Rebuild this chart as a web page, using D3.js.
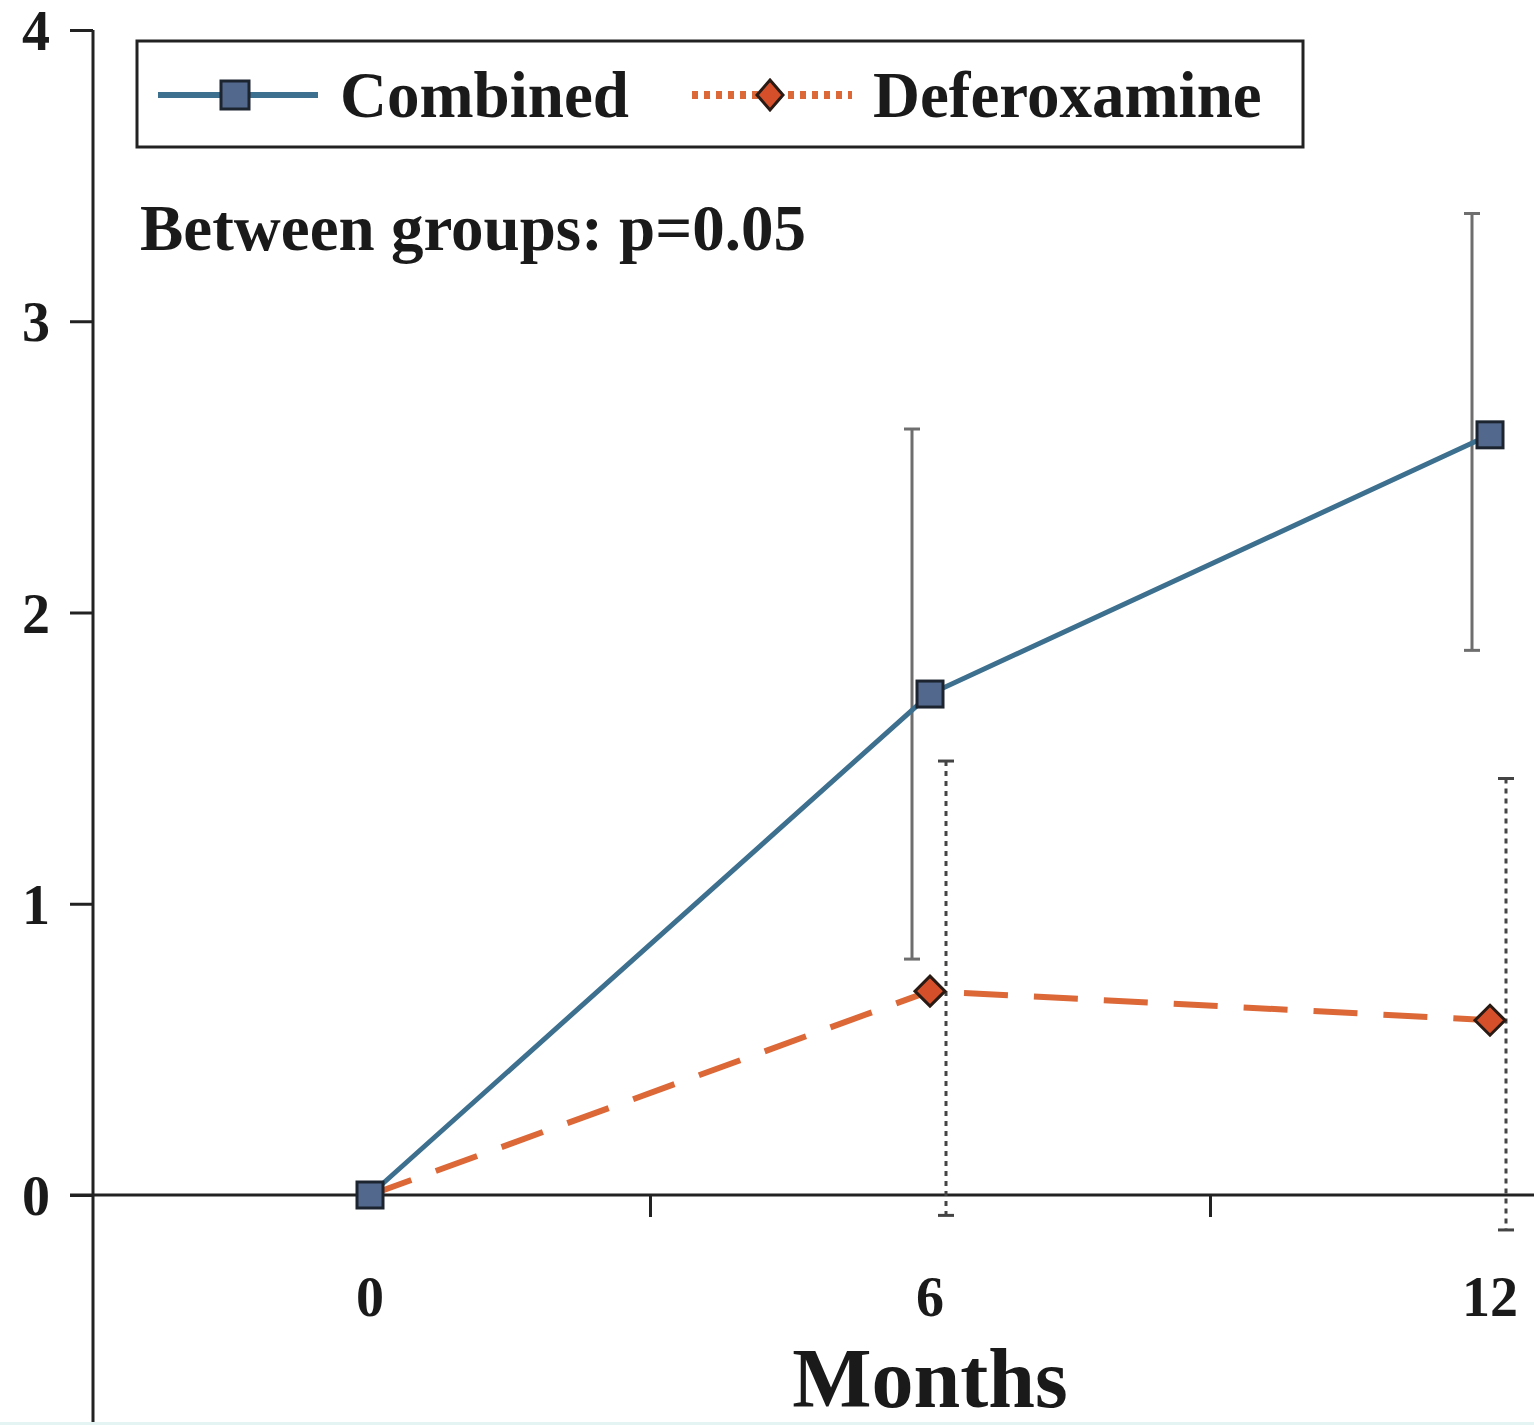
<!DOCTYPE html>
<html>
<head>
<meta charset="utf-8">
<script src="https://cdn.jsdelivr.net/npm/d3@7"></script>
<style>
  body { margin: 0; background: #fff; }
  svg { display: block; }
  text { font-family: "Liberation Serif", "DejaVu Serif", serif; font-weight: bold; fill: #1a1a1a; }
</style>
</head>
<body>
<svg id="chart" width="1534" height="1425"></svg>
<script>
// data
const months = [0, 6, 12];
const combined = [0, 1.72, 2.61];
const combinedUpper = [null, 2.63, 3.37];
const combinedLower = [null, 0.81, 1.87];
const deferoxamine = [0, 0.70, 0.60];
const deferoxamineUpper = [null, 1.49, 1.43];
const deferoxamineLower = [null, -0.07, -0.12];
const yTicks = [0, 1, 2, 3, 4];
const seriesNames = ["Combined", "Deferoxamine"];

const svg = d3.select("#chart");

const x = d3.scaleLinear().domain([-3, 15]).range([90, 1770]);
const y = d3.scaleLinear().domain([0, 4]).range([1195, 30]);

const blue = "#3d6f8e", blueFill = "#52698d";
const orange = "#dc6737", orangeFill = "#d5502a";

// y axis
svg.append("line")
   .attr("x1", 93).attr("x2", 93)
   .attr("y1", y(4)).attr("y2", 1425)
   .attr("stroke", "#222").attr("stroke-width", 3);

const yAxis = d3.axisLeft(y).tickValues(yTicks).tickSize(23).tickFormat(d3.format("d"));
const gy = svg.append("g").attr("transform", "translate(93,0)").call(yAxis);
gy.select(".domain").remove();
gy.selectAll(".tick line").attr("stroke", "#222").attr("stroke-width", 3);
gy.selectAll(".tick text")
  .attr("x", -43).attr("dy", "0.35em")
  .style("font-size", "56px").style("font-family", "Liberation Serif").style("font-weight", "bold")
  .attr("fill", "#1a1a1a");

// x axis at zero
svg.append("line")
   .attr("x1", 70).attr("x2", 1534)
   .attr("y1", y(0)).attr("y2", y(0))
   .attr("stroke", "#222").attr("stroke-width", 3);

const xAxis = d3.axisBottom(x).tickValues([3, 9]).tickSize(22).tickFormat("");
const gx = svg.append("g").attr("transform", `translate(0,${y(0)})`).call(xAxis);
gx.select(".domain").remove();
gx.selectAll(".tick line").attr("stroke", "#222").attr("stroke-width", 3);

svg.selectAll(".xlab")
   .data(months)
   .enter()
   .append("text")
   .attr("class", "xlab")
   .attr("x", d => x(d))
   .attr("y", 1316)
   .attr("text-anchor", "middle")
   .style("font-size", "56px")
   .text(d => d);

svg.append("text")
   .attr("x", x(6))
   .attr("y", 1407)
   .attr("text-anchor", "middle")
   .style("font-size", "84px")
   .text("Months");

// error bars
function errorBars(upper, lower, dx, color, dash, cls) {
  const g = svg.append("g").attr("class", cls);
  months.forEach((m, i) => {
    if (upper[i] == null) return;
    const cx = x(m) + dx;
    g.append("line")
     .attr("x1", cx).attr("x2", cx)
     .attr("y1", y(upper[i])).attr("y2", y(lower[i]))
     .attr("stroke", color).attr("stroke-width", 3)
     .attr("stroke-dasharray", dash);
    [upper[i], lower[i]].forEach(v => {
      g.append("line")
       .attr("x1", cx - 8).attr("x2", cx + 8)
       .attr("y1", y(v)).attr("y2", y(v))
       .attr("stroke", color).attr("stroke-width", 3);
    });
  });
}
errorBars(combinedUpper, combinedLower, -18, "#6e6e6e", null, "err-comb");
errorBars(deferoxamineUpper, deferoxamineLower, 16, "#444", "5,5", "err-def");

// lines
const line = d3.line().x((d, i) => x(months[i])).y(d => y(d));

svg.append("path")
   .datum(deferoxamine)
   .attr("d", line)
   .attr("fill", "none")
   .attr("stroke", orange)
   .attr("stroke-width", 6)
   .attr("stroke-dasharray", "44,26");

svg.append("path")
   .datum(combined)
   .attr("d", line)
   .attr("fill", "none")
   .attr("stroke", blue)
   .attr("stroke-width", 5);

// markers
const sq = 26, dm = 15;
svg.selectAll(".sq")
   .data(combined)
   .enter()
   .append("rect")
   .attr("class", "sq")
   .attr("x", (d, i) => x(months[i]) - sq / 2)
   .attr("y", d => y(d) - sq / 2)
   .attr("width", sq).attr("height", sq)
   .attr("fill", blueFill).attr("stroke", "#1c2430").attr("stroke-width", 3);

svg.selectAll(".dm")
   .data(deferoxamine)
   .enter()
   .filter((d, i) => i > 0)
   .append("path")
   .attr("class", "dm")
   .attr("d", (d, i) => {
     const cx = x(months[i + 1]), cy = y(d);
     return `M${cx},${cy - dm}L${cx + dm},${cy}L${cx},${cy + dm}L${cx - dm},${cy}Z`;
   })
   .attr("fill", orangeFill).attr("stroke", "#2a1a14").attr("stroke-width", 3);

// legend
const leg = svg.append("g");
leg.append("rect")
   .attr("x", 137).attr("y", 41).attr("width", 1166).attr("height", 106)
   .attr("fill", "#fff").attr("stroke", "#222").attr("stroke-width", 3);

leg.append("line")
   .attr("x1", 158).attr("x2", 318).attr("y1", 95).attr("y2", 95)
   .attr("stroke", blue).attr("stroke-width", 6);
leg.append("rect")
   .attr("x", 235 - 14).attr("y", 95 - 14).attr("width", 28).attr("height", 28)
   .attr("fill", blueFill).attr("stroke", "#1c2430").attr("stroke-width", 3);
leg.append("text").attr("x", 340).attr("y", 117).style("font-size", "65px").text(seriesNames[0]);

leg.append("line")
   .attr("x1", 692).attr("x2", 852).attr("y1", 95).attr("y2", 95)
   .attr("stroke", orange).attr("stroke-width", 8)
   .attr("stroke-dasharray", "6,6");
leg.append("path")
   .attr("d", `M770,${95 - 15}L${770 + 13},95L770,${95 + 15}L${770 - 13},95Z`)
   .attr("fill", orangeFill).attr("stroke", "#2a1a14").attr("stroke-width", 3);
leg.append("text").attr("x", 873).attr("y", 117).style("font-size", "65px").text(seriesNames[1]);

svg.append("text")
   .attr("x", 140).attr("y", 250)
   .style("font-size", "65px")
   .attr("fill", "#2a2a2a")
   .text("Between groups: p=0.05");

// thin tinted strip at the bottom edge of the scan
svg.append("rect").attr("x", 0).attr("y", 1422).attr("width", 1534).attr("height", 3).attr("fill", "#e3f4f3");
</script>
</body>
</html>
